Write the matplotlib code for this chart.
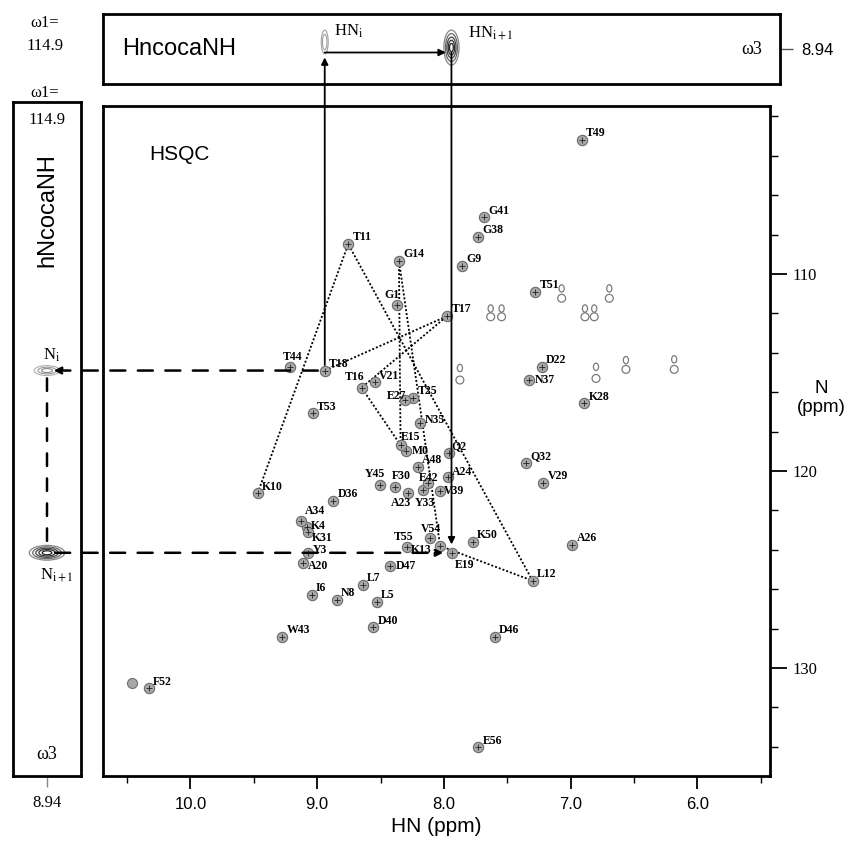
import matplotlib
matplotlib.use("Agg")
import matplotlib.pyplot as plt
from matplotlib.patches import Ellipse, ConnectionPatch
from matplotlib.path import Path
from matplotlib.transforms import Affine2D
import numpy as np

plt.rcParams['mathtext.fontset'] = 'stix'

# ---------------- data ----------------
residues = ['M0', 'G1', 'Q2', 'Y3', 'K4', 'L5', 'I6', 'L7', 'N8', 'G9', 'K10', 'T11', 'L12', 'K13',
            'G14', 'E15', 'T16', 'T17', 'T18', 'E19', 'A20', 'V21', 'D22', 'A23', 'A24', 'T25',
            'A26', 'E27', 'K28', 'V29', 'F30', 'K31', 'Q32', 'Y33', 'A34', 'N35', 'D36', 'N37',
            'G38', 'V39', 'D40', 'G41', 'E42', 'W43', 'T44', 'Y45', 'D46', 'D47', 'A48', 'T49',
            'K50', 'T51', 'F52', 'T53', 'V54', 'T55', 'E56']
hn_ppm = [8.30, 8.371, 7.958, 9.071, 9.084, 8.531, 9.044, 8.642, 8.847, 7.856, 9.47, 8.755, 7.30, 8.03,
          8.355, 8.342, 8.65, 7.974, 8.94, 7.94, 9.11, 8.545, 7.229, 8.287, 7.966, 8.242,
          6.987, 8.308, 6.893, 7.216, 8.387, 9.071, 7.350, 8.168, 9.129, 8.187, 8.874, 7.327,
          7.729, 8.03, 8.558, 7.682, 8.124, 9.276, 9.215, 8.505, 7.597, 8.426, 8.203, 6.913,
          7.769, 7.279, 10.326, 9.036, 8.11, 8.294, 7.729]
n_ppm = [118.97, 111.57, 119.07, 124.18, 122.86, 126.63, 126.30, 125.79, 126.55, 109.58, 121.13, 108.48, 125.57, 123.80,
         109.32, 118.68, 115.77, 112.13, 114.9, 124.15, 124.69, 115.50, 114.70, 121.10, 120.29, 116.28,
         123.76, 116.40, 116.56, 120.60, 120.80, 123.08, 119.60, 120.97, 122.54, 117.58, 121.50, 115.38,
         108.10, 120.99, 127.94, 107.12, 120.63, 128.40, 114.70, 120.71, 128.40, 124.82, 119.78, 103.20,
         123.59, 110.90, 131.03, 117.07, 123.42, 123.84, 134.03]

unassigned_hn = [10.46]
unassigned_n = [130.74]

# side-chain NH2 pairs
sc_hn = [7.631, 7.545, 7.071, 6.887, 6.814, 6.695, 6.80, 6.564, 6.183, 7.874]
sc_n_a = [111.75, 111.75, 110.73, 111.75, 111.75, 110.73, 114.71, 114.37, 114.33, 114.77]
sc_n_b = [112.17, 112.17, 111.23, 112.17, 112.17, 111.23, 115.30, 114.84, 114.84, 115.38]

walk = ['K10', 'T11', 'L12', 'K13', 'G14', 'E15', 'T16', 'T17', 'T18']
res_i, res_next = 'T18', 'E19'
omega1_label = '114.9'
omega3_label = '8.94'

x_ticks = [10.0, 9.0, 8.0, 7.0, 6.0]
y_ticks = [110, 120, 130]

# label offsets (points) for labels not placed up-right
label_offsets = {
    'T44': (-5, 7.2), 'A23': (-12, -7.6), 'Y33': (-5.5, -9.6), 'A20': (3, -1.5),
    'E19': (2.5, -8.5), 'K13': (-21, -3), 'T55': (-9.5, 6.8), 'V54': (-6.5, 6.8),
    'Y45': (-11, 8), 'F30': (-2, 8), 'E42': (-7, 4), 'V39': (3, 0), 'A24': (2.5, 3.5),
    'M0': (4, 0), 'T16': (-12, 8), 'E27': (-13, 3), 'G1': (-9, 7), 'N35': (3.5, 2.5),
    'N37': (4, 0), 'K31': (3, -4.2), 'K4': (3, 1.2), 'D47': (4, 0), 'E15': (0.5, 5.5),
    'Q2': (1.5, 5), 'A34': (3, 7.5), 'Y3': (3, 2.2),
}
default_offset = (3, 4.8)

HN = dict(zip(residues, hn_ppm))
NN = dict(zip(residues, n_ppm))

# ---------------- figure ----------------
W, H = 847, 846
fig = plt.figure(figsize=(W / 100, H / 100), dpi=100)


def rect(l, t, r, b):
    return [l / W, 1 - b / H, (r - l) / W, (b - t) / H]


ax = fig.add_axes(rect(103, 106, 770, 776))
axt = fig.add_axes(rect(103, 14, 780, 84))
axl = fig.add_axes(rect(13, 102, 81, 776))

for a in (ax, axt, axl):
    for s in a.spines.values():
        s.set_linewidth(2.0)
        s.set_color('black')

serif = 'Liberation Serif'
sans = 'Liberation Sans'

# ---------------- main HSQC ----------------
ax.set_xlim(10.69, 5.427)
ax.set_ylim(135.48, 101.47)

ax.scatter(unassigned_hn, unassigned_n, s=52, facecolor='#a8a8a8', edgecolor='#707070', lw=0.8, zorder=3)
ax.scatter(hn_ppm, n_ppm, s=55, facecolor='#a8a8a8', edgecolor='#6a6a6a', lw=0.8, zorder=3)
ax.scatter(hn_ppm, n_ppm, marker='+', s=14, color='#222222', lw=0.6, zorder=4)

oval = Affine2D().scale(0.7, 1.0).transform_path(Path.unit_circle())
ax.scatter(sc_hn, sc_n_a, s=28, marker=oval,
           facecolor='none', edgecolor='#7a7a7a', lw=0.9, zorder=3)
ax.scatter(sc_hn, sc_n_b, s=32, facecolor='none', edgecolor='#7a7a7a', lw=0.9, zorder=3)

ax.plot([HN[r] for r in walk], [NN[r] for r in walk], color='black', lw=1.3,
        ls=(0, (1.1, 1.1)), zorder=2)

for r in residues:
    off = label_offsets.get(r, default_offset)
    ax.annotate(r, (HN[r], NN[r]), xytext=off, textcoords='offset points',
                fontsize=8.5, fontweight='bold', family=serif, ha='left', va='center', zorder=5)

ax.text(0.07, 0.927, 'HSQC', transform=ax.transAxes, fontsize=15, family=sans,
        ha='left', va='center')

ax.set_xticks(x_ticks)
ax.set_xticklabels([f'{v:.1f}' for v in x_ticks], family=sans)
ax.set_xticks(np.arange(5.5, 10.51, 0.5), minor=True)
ax.yaxis.tick_right()
ax.set_yticks(y_ticks)
ax.set_yticklabels([str(v) for v in y_ticks], family=serif)
ax.set_yticks(np.arange(102, 136, 2), minor=True)
ax.tick_params(axis='x', which='major', direction='out', length=9, width=1.3, labelsize=12, pad=6)
ax.tick_params(axis='x', which='minor', direction='out', length=5, width=1.0)
ax.tick_params(axis='y', which='major', direction='out', length=12, width=1.3, labelsize=12, pad=4)
ax.tick_params(axis='y', which='minor', direction='out', length=6, width=1.0)
ax.set_xlabel('HN (ppm)', fontsize=15, family=sans, labelpad=4)
fig.text(821 / W, 1 - 398 / H, 'N\n(ppm)', fontsize=13.5, family=sans, ha='center', va='center',
         linespacing=1.1)

# ---------------- top strip (HncocaNH) ----------------
axt.set_xlim(10.69, 10.69 - (780 - 103) / 126.7)
axt.set_ylim(0, 1)
axt.set_xticks([])
axt.yaxis.tick_right()
axt.set_yticks([0.5])
axt.set_yticklabels([omega3_label], family=sans)
axt.tick_params(axis='y', length=9, width=1.0, labelsize=12, pad=6, color='#555555')

for w, h in zip([0.055, 0.035], [0.34, 0.22]):
    axt.add_patch(Ellipse((HN[res_i], 0.6), w, h, fill=False, ec='#a0a0a0', lw=0.8))
for w, h, c in zip([0.12, 0.095, 0.072, 0.05, 0.03], [0.5, 0.4, 0.3, 0.21, 0.12],
                   ['#888888', '#666666', '#444444', '#333333', '#222222']):
    axt.add_patch(Ellipse((HN[res_next], 0.52), w, h, fill=False, ec=c, lw=0.9))

axt.text(0.028, 0.5, 'HncocaNH', transform=axt.transAxes, fontsize=17, family=sans,
         ha='left', va='center')
axt.text(0.958, 0.5, 'ω3', transform=axt.transAxes, fontsize=13, family=serif,
         ha='center', va='center')
axt.annotate('HN$_{\\mathrm{i}}$', (HN[res_i], 0.6), xytext=(7, 8), textcoords='offset points',
             fontsize=12, family=serif, ha='left', va='center')
axt.annotate('HN$_{\\mathrm{i+1}}$', (HN[res_next], 0.6), xytext=(12, 6), textcoords='offset points',
             fontsize=12, family=serif, ha='left', va='center')
axt.annotate('', xy=(HN[res_next], 0.45), xytext=(HN[res_i], 0.45),
             arrowprops=dict(arrowstyle='-|>', lw=1.3, color='black', mutation_scale=10,
                             shrinkA=0, shrinkB=4))

fig.text(45 / W, 1 - 23 / H, 'ω1=', fontsize=12, family=serif, ha='center', va='center')
fig.text(45 / W, 1 - 46 / H, omega1_label, fontsize=12, family=serif, ha='center', va='center')

# ---------------- left strip (hNcocaNH) ----------------
axl.set_xlim(0, 1)
axl.set_ylim(135.48, 101.27)
axl.set_yticks([])
axl.set_xticks([0.5])
axl.set_xticklabels([omega3_label], family=serif)
axl.tick_params(axis='x', length=8, width=1.0, labelsize=12, pad=6, color='#888888')

for w, h, c in zip([0.38, 0.27, 0.16], [0.5, 0.34, 0.2], ['#b0b0b0', '#999999', '#888888']):
    axl.add_patch(Ellipse((0.5, NN[res_i]), w, h, fill=False, ec=c, lw=0.8))
for w, h, c in zip([0.52, 0.42, 0.33, 0.24, 0.14], [0.75, 0.6, 0.46, 0.33, 0.2],
                   ['#888888', '#666666', '#444444', '#333333', '#222222']):
    axl.add_patch(Ellipse((0.5, NN[res_next]), w, h, fill=False, ec=c, lw=0.9))

axl.text(0.5, 0.985, omega1_label, transform=axl.transAxes, fontsize=12, family=serif,
         ha='center', va='top')
axl.text(0.5, 0.84, 'hNcocaNH', transform=axl.transAxes, fontsize=17, family=sans,
         rotation=90, ha='center', va='center')
axl.text(0.5, 0.02, 'ω3', transform=axl.transAxes, fontsize=13, family=serif,
         ha='center', va='bottom')
axl.annotate('N$_{\\mathrm{i}}$', (0.5, NN[res_i]), xytext=(3, 11), textcoords='offset points',
             fontsize=12, family=serif, ha='center', va='center')
axl.annotate('N$_{\\mathrm{i+1}}$', (0.5, NN[res_next]), xytext=(7, -16), textcoords='offset points',
             fontsize=12, family=serif, ha='center', va='center')
axl.annotate('', xy=(0.5, NN[res_next] - 0.4), xytext=(0.5, NN[res_i] + 0.4),
             arrowprops=dict(arrowstyle='-', lw=1.8, color='black', linestyle=(0, (5, 5)),
                             shrinkA=0, shrinkB=0))
fig.text(45 / W, 1 - 93 / H, 'ω1=', fontsize=12, family=serif, ha='center', va='center')

# ---------------- connecting arrows ----------------
dash = (0, (6, 5))
fig.add_artist(ConnectionPatch(xyA=(HN[res_i], NN[res_i]), coordsA=ax.transData,
                               xyB=(HN[res_i], 0.38), coordsB=axt.transData,
                               arrowstyle='-|>', mutation_scale=10, lw=1.3, color='black',
                               shrinkA=4, shrinkB=0, zorder=6))
fig.add_artist(ConnectionPatch(xyA=(HN[res_next], 0.45), coordsA=axt.transData,
                               xyB=(HN[res_next], NN[res_next]), coordsB=ax.transData,
                               arrowstyle='-|>', mutation_scale=10, lw=1.3, color='black',
                               shrinkA=0, shrinkB=6, zorder=6))
fig.add_artist(ConnectionPatch(xyA=(HN[res_i], NN[res_i]), coordsA=ax.transData,
                               xyB=(0.6, NN[res_i]), coordsB=axl.transData,
                               arrowstyle='-|>', mutation_scale=10, lw=1.8, color='black',
                               linestyle=dash, shrinkA=5, shrinkB=0, zorder=6))
fig.add_artist(ConnectionPatch(xyA=(0.62, NN[res_next]), coordsA=axl.transData,
                               xyB=(HN[res_next], NN[res_next]), coordsB=ax.transData,
                               arrowstyle='-|>', mutation_scale=10, lw=1.8, color='black',
                               linestyle=dash, shrinkA=0, shrinkB=6, zorder=6))

fig.savefig('out.png', dpi=100)
